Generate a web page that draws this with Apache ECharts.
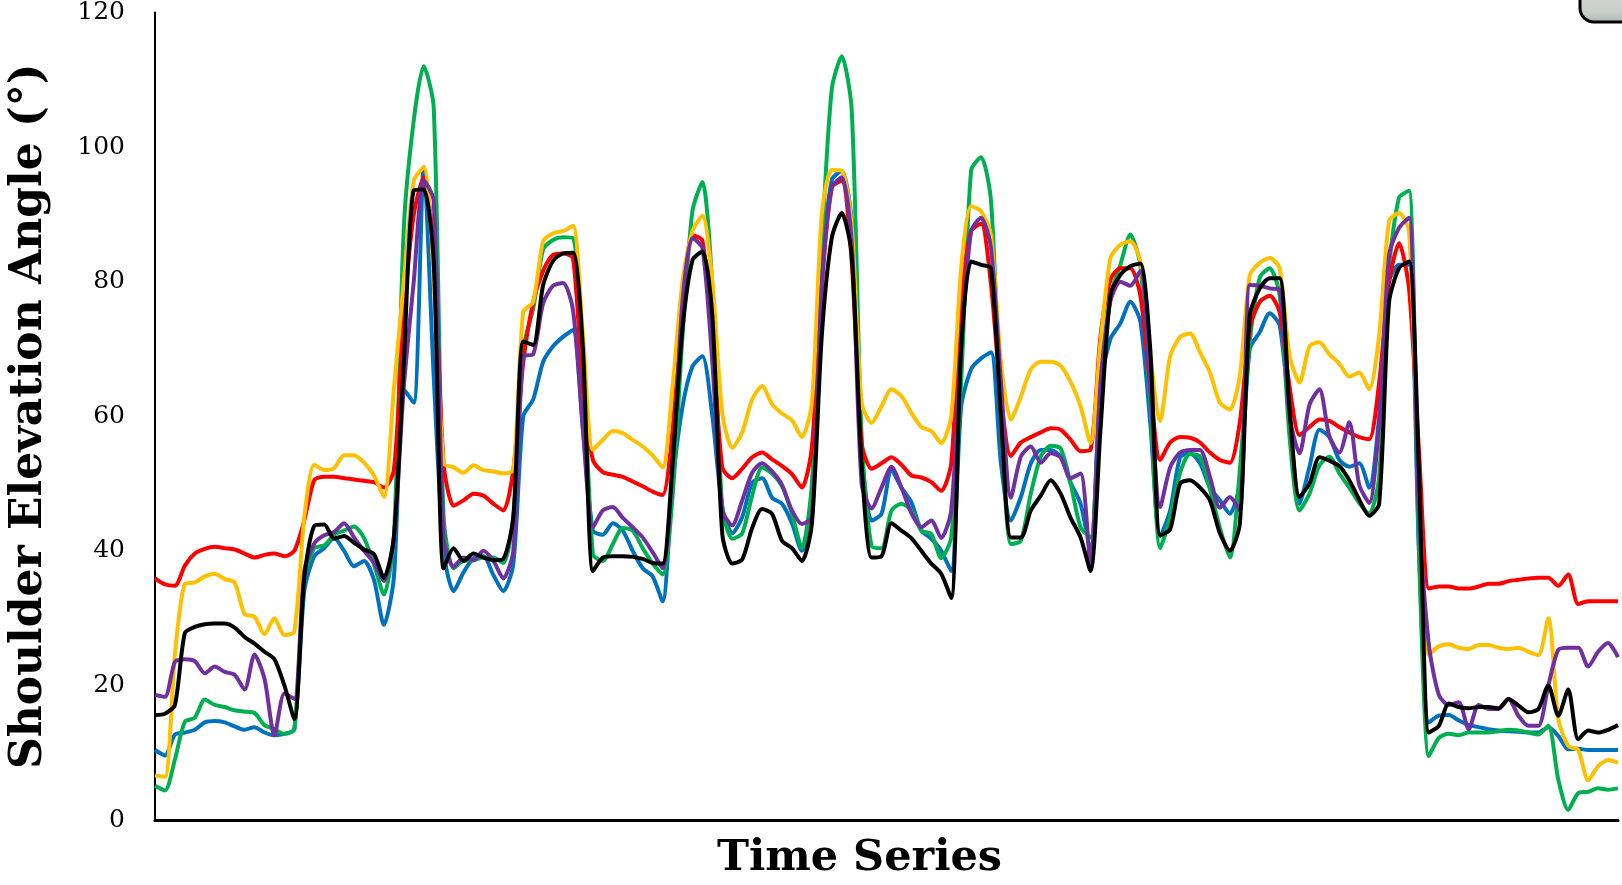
<!DOCTYPE html>
<html>
<head>
<meta charset="utf-8">
<script src="https://cdn.jsdelivr.net/npm/echarts@6/dist/echarts.min.js"></script>
<style>html,body{margin:0;padding:0;background:#fff;}#chart{width:1622px;height:885px;}</style>
</head>
<body>
<div id="chart"></div>
<script>
// time index categories (148 samples)
const timeSteps = [];
for (let i = 0; i < 148; i++) timeSteps.push(String(i));

const yTicks = [0, 20, 40, 60, 80, 100, 120];

const redSeries = [
35.9,35.0,34.8,37.8,39.6,40.3,40.6,40.4,40.2,39.6,39.0,39.4,39.6,39.2,40.0,44.5,50.5,51.0,51.0,50.8,50.6,50.4,50.2,49.4,52,
75,90,95.5,85,
53,46.7,47.5,48.5,48.2,47,46,52,68,77,81.6,84,84.2,83.5,64,53.5,51.7,51.3,51,50.3,49.6,48.8,48.3,
58,77,86.9,86.1,71.9,52.4,50.8,52.2,53.9,54.6,53.6,52.6,51.4,49.4,55.4,79.4,94,95,83,56,52.2,53,53.9,52.8,51.2,
50.9,50.2,48.9,53,78,87.5,88.6,79.5,62.9,54.1,56.1,56.9,57.6,58.2,58,56.5,54.8,55,71.9,80.3,82,82,78,64.4,53.5,
56.1,56.9,56.8,56.1,54.6,53.5,53.1,59.1,73,77,77.9,75.5,64.4,57.2,58.4,59.5,59.3,58.4,57.6,56.9,56.6,
65,80,85.7,79,55,34.4,34.7,34.7,34.4,34.4,34.7,35.1,35.1,35.5,35.7,35.9,36,36,34.8,36.5,32.1,32.5,32.5,32.5,32.5
];

const yellowSeries = [
6.6,6.4,24.6,35.1,35.3,36.2,36.6,35.8,35.3,30.6,30.2,27.6,30,27.5,28,45,52.8,52,52.3,54.2,54.2,53.1,51.2,48,64,
80,95,97,81,
53,52.4,51.6,52.7,52,51.8,51.5,52,75.5,77,86,87.2,87.5,88.3,72,55,56.5,57.8,57.5,56.5,55.5,54.2,52.4,
64.4,80,87.5,89.8,80,60.5,55.3,57.6,62.5,64.5,61.8,60.4,59.4,56.9,62,90,96.6,96.5,88.4,62,59,61.5,64,63,60.5,
58.4,57.8,56,60,82,91.2,90.5,86.9,68,59.5,62.9,67,68.1,68.1,67.5,65.1,61.5,56,71,83.5,85.5,86,83.1,69,59.3,
68.9,71.8,72.3,69.5,66.5,62,61,66,80.9,82.8,83.5,82,69,65,70.4,71,69.2,67.8,65.9,66.5,64,
72,89,90.2,87.5,49.4,24.6,25.8,26.1,25.6,25.4,26,26,25.6,25.4,25.6,25,24.5,30,15,11,10.4,5.9,8,8.9,8.5
];

const blackSeries = [
15.6,15.8,17.1,27.8,28.7,29.1,29.2,29.2,28.6,27.2,26.2,25,23.9,20,15,36,43.7,43.9,41.8,42.2,41.2,40.2,39.5,36,42,
68,93.6,93.7,83.1,
37.4,40.4,38.5,39.6,39,38.6,38.8,45,71.1,70.6,79.5,83.1,84.2,84.3,70,37,39,39.2,39.2,39.1,38.8,38.2,38.1,
53,73,83.2,84.5,75,42.5,38.1,38.7,43.4,46.2,45.5,41.5,40.4,38.5,44,72,86.5,90.2,84,53,39,39.2,44.1,43,41.9,
40,38.1,36.6,33,70,83,82.5,82,60,42,42,46,48.2,50.5,48.5,44.9,42,37,58,78,81,82.3,82.7,70,42.3,
43.2,50,50.5,49.4,47.5,42.6,40,44,75,79,80.5,80.5,61,48,50,53.9,53.4,52.6,50.5,47.6,45.2,
47,77,82,83,52,13,14,17.3,16.8,16.6,16.8,16.8,16.6,18,17,16,16.5,20,15.5,19.4,12,13.3,13,13.4,14.1
];

const purpleSeries = [
18.6,18.3,23.5,23.9,23.6,21.8,22.8,22,21.6,19.4,24.6,21,12.6,18.8,18,37,41.1,42.3,42.8,44.1,42,40,38.2,35.5,42,
64.4,80,95.1,92.1,
41.9,37.6,39,38.6,40,38.5,35.9,40,68.9,69.2,76.8,79.4,79.8,75.8,58,43.5,46,46.5,44.9,43.5,42,39.8,37.4,
52,77,86.5,85,68,46,43.8,47.5,51.6,53,51.8,49.8,46,44,45,79.4,94,95.5,86,50,46.3,49.4,52.5,49.4,45.6,
43.5,44.5,41.9,46,70,87.5,89.5,85,65,47.9,54,55.5,53.1,54.5,53.9,50.8,51.5,38,65,77.1,80,79.4,81.6,64,46.5,
52.4,54.6,55,55,51,46.4,48,46,79.5,79.4,79,78.8,60,54.5,61.7,64,57,54.6,59.1,49.8,47.1,
59,84,88,89.5,45,26,18.6,17.1,17.5,13.5,17.1,16.5,16.5,18,15.5,14,14,20,25.3,25.6,25.6,22.8,25,26.3,24.2
];

const greenSeries = [
5.1,4.4,9,14.6,15.2,17.9,17.1,16.8,16.3,16.1,15.9,14.1,13.5,12.8,13.5,36,40.4,40.8,42.4,43,43.6,41.9,38,33.5,42,
88,104,112,106,
45,37.4,38.5,38.6,39,39,38.2,45,70,76,84.8,86.2,86.6,86.5,70,39.5,38.5,41,43.4,43,40.4,38.1,36.5,
48,71.9,90.5,94.8,79.4,46.4,41.8,42.6,48.2,52.4,51.5,49.6,45.5,40.4,50,85,108.6,113.5,105.6,57,40.7,40.4,46,47,46,
43,42.5,38.9,42,65,96.5,98.5,92,60,41,41.5,48.5,54,55.6,55.2,50,43.5,42,64.4,78,82.5,87,82.4,62,40.4,
45,51.6,54.4,54,49.2,43.4,39,52,71,80.6,82,78,56.9,46,48.5,52.7,54,51.5,49.4,47.1,45.5,
51,82,92.5,93.5,40,9.5,12.2,12.8,12.6,13,13,13,13.2,13.4,13.3,13,12.7,14,6,1.5,4,4.2,4.7,4.5,4.7
];

const blueSeries = [
10.4,9.6,12.7,13,13.4,14.5,14.7,14.5,13.9,13.4,13.8,13,12.6,12.8,13.5,34,39.2,40.4,41.9,40,37.7,38.5,35.7,29,36,
64,62,97,66,
40,34,36.8,38.9,39.2,36.4,34,38,60,62.5,68.1,70.4,71.8,72.8,58,43,42.4,44.1,43,40,37.4,36.2,32.5,
50,61.4,67.4,68.9,60,46.5,42.6,45,50.1,50.8,47.9,47,44.1,40,45,82,95.1,96.5,89,55,44.5,45.5,52,49.4,47.2,
43,41.8,40,37,61.4,67,68.6,69.5,53,44.5,48,53,55,55,54,50.1,47,40,64.4,71.5,73.8,77,74.1,59,42.2,
46,53.9,54.5,53,49.4,47.5,45.5,50,70,72.5,75.3,73.5,60,47,52.5,58,56.9,53.5,52.5,53,49.4,
60,80,82.5,82.5,40,14.5,15.5,15.6,14.8,14.1,13.8,13.5,13.3,13.2,13.1,13,13,13.8,12.5,10.5,10.6,10.4,10.4,10.4,10.4
];

const seriesDefs = [
  { name: 'Blue', color: '#0070C0', data: blueSeries },
  { name: 'Green', color: '#00B050', data: greenSeries },
  { name: 'Red', color: '#FF0000', data: redSeries },
  { name: 'Yellow', color: '#FFC000', data: yellowSeries },
  { name: 'Purple', color: '#7030A0', data: purpleSeries },
  { name: 'Black', color: '#000000', data: blackSeries }
];

const chart = echarts.init(document.getElementById('chart'));
const font = 'DejaVu Serif';
chart.setOption({
  animation: false,
  backgroundColor: '#ffffff',
  grid: { left: 150, right: 4, top: 9, bottom: 60, containLabel: false },
  xAxis: {
    type: 'category',
    data: timeSteps,
    boundaryGap: false,
    name: 'Time Series',
    nameLocation: 'middle',
    nameGap: 17,
    nameTextStyle: { fontFamily: font, fontWeight: 'bold', fontSize: 43, color: '#000', padding: [0, 54, 0, 0] },
    axisLine: { show: true, lineStyle: { color: '#000', width: 3 } },
    axisTick: { show: false },
    axisLabel: { show: false },
    splitLine: { show: false }
  },
  yAxis: {
    type: 'value',
    min: yTicks[0],
    max: yTicks[yTicks.length - 1],
    interval: 20,
    name: 'Shoulder Elevation Angle (°)',
    nameLocation: 'middle',
    nameGap: 103,
    nameTextStyle: { fontFamily: font, fontWeight: 'bold', fontSize: 44, color: '#000' },
    axisLine: { show: true, lineStyle: { color: '#000', width: 2 } },
    axisTick: { show: false },
    axisLabel: { fontFamily: font, fontSize: 25, color: '#000', margin: 30 },
    splitLine: { show: false }
  },
  series: seriesDefs.map(s => ({
    name: s.name,
    type: 'line',
    data: s.data,
    symbol: 'none',
    smooth: 0.25,
    lineStyle: { color: s.color, width: 4 },
    itemStyle: { color: s.color }
  })),
  graphic: [{
    type: 'rect',
    shape: { x: 1580, y: -40, width: 90, height: 62, r: 14 },
    style: {
      fill: new echarts.graphic.LinearGradient(0, 0, 0, 1, [
        { offset: 0, color: '#e4e6e5' },
        { offset: 0.8, color: '#c9cfcc' },
        { offset: 1, color: '#aab8b3' }
      ]),
      stroke: '#000', lineWidth: 3
    }
  }]
});
</script>
</body>
</html>
